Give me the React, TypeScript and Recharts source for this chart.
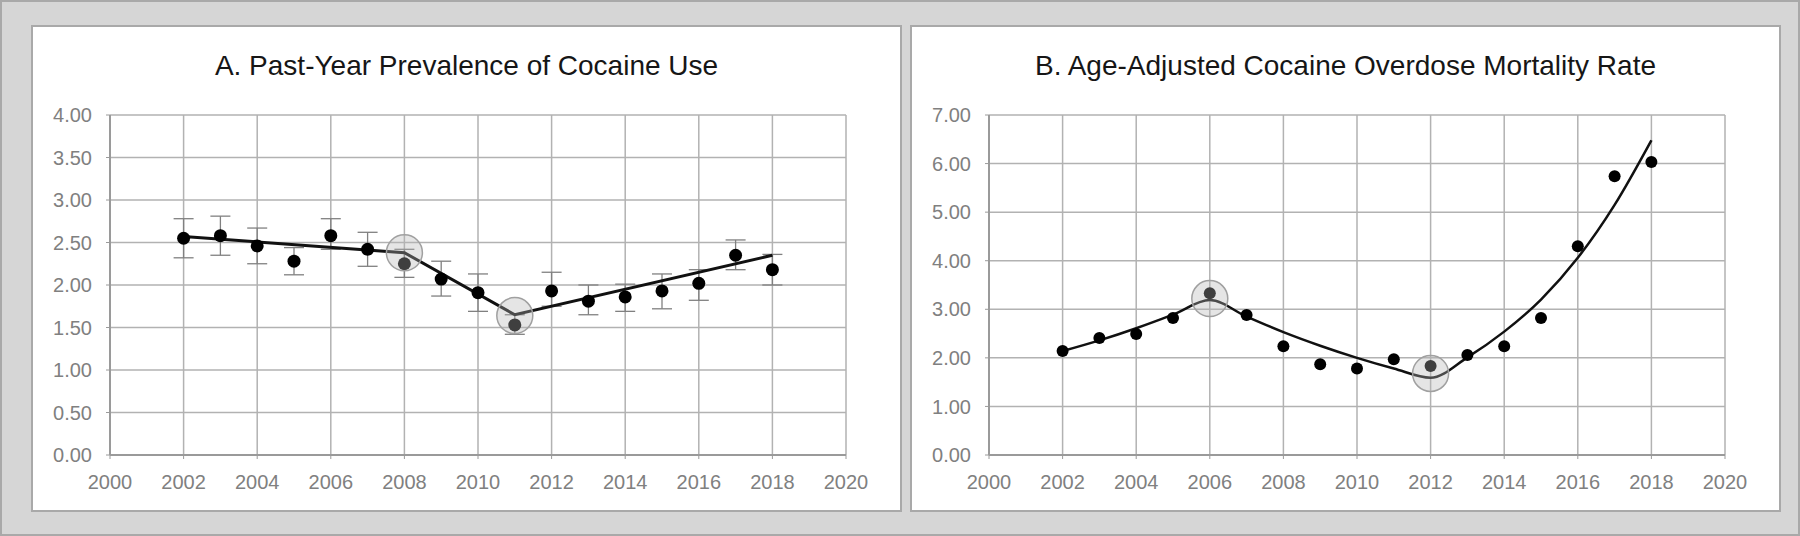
import * as React from "react";
import {
  ComposedChart,
  Line,
  Scatter,
  ErrorBar,
  XAxis,
  YAxis,
  CartesianGrid,
  ReferenceDot,
} from "recharts";

// years shared by both panels
const years = [2002, 2003, 2004, 2005, 2006, 2007, 2008, 2009, 2010, 2011, 2012, 2013, 2014, 2015, 2016, 2017, 2018];
const xTicks = [2000, 2002, 2004, 2006, 2008, 2010, 2012, 2014, 2016, 2018, 2020];

// A. past-year prevalence (%) with 95% CI
const prevalence = [2.55, 2.58, 2.46, 2.28, 2.58, 2.42, 2.25, 2.07, 1.91, 1.53, 1.93, 1.81, 1.86, 1.93, 2.02, 2.35, 2.18];
const prevLow = [2.32, 2.35, 2.25, 2.12, 2.42, 2.22, 2.09, 1.87, 1.69, 1.42, 1.75, 1.65, 1.69, 1.72, 1.82, 2.18, 2.0];
const prevHigh = [2.78, 2.81, 2.67, 2.44, 2.78, 2.62, 2.42, 2.28, 2.13, 1.65, 2.15, 2.0, 2.01, 2.13, 2.18, 2.53, 2.36];
// joinpoint trend A (values at the segment ends only)
const trendAYears = [2002, 2008, 2011, 2018];
const trendAValues = [2.57, 2.38, 1.65, 2.35];
const jointsA = [
  { year: 2008, value: 2.38 },
  { year: 2011, value: 1.64 },
];
const yTicksA = [0, 0.5, 1, 1.5, 2, 2.5, 3, 3.5, 4];

// B. age-adjusted cocaine overdose mortality rate
const mortality = [2.14, 2.41, 2.49, 2.82, 3.33, 2.88, 2.24, 1.87, 1.78, 1.97, 1.83, 2.06, 2.24, 2.82, 4.3, 5.74, 6.03];
const trendB = [2.14, 2.36, 2.61, 2.89, 3.19, 2.85, 2.53, 2.25, 2.0, 1.78, 1.59, 2.01, 2.54, 3.2, 4.06, 5.15, 6.48];
const jointsB = [
  { year: 2006, value: 3.22 },
  { year: 2012, value: 1.68 },
];
const yTicksB = [0, 1, 2, 3, 4, 5, 6, 7];

const dataA = years.map((year, i) => {
  const t = trendAYears.indexOf(year);
  return {
    year,
    value: prevalence[i],
    err: [prevalence[i] - prevLow[i], prevHigh[i] - prevalence[i]],
    trend: t >= 0 ? trendAValues[t] : null,
  };
});

const dataB = years.map((year, i) => ({ year, value: mortality[i], trend: trendB[i] }));

const FONT = "'Liberation Sans', Arial, sans-serif";
const tickStyle = { fontSize: 20, fill: "#808080", fontFamily: FONT };
const gridColor = "#b2b2b2";

const PANEL_W = 867;
const PANEL_H = 483;

const Panel: React.FC<{ left: number; title: string; children: React.ReactNode }> = ({ left, title, children }) => (
  <div
    style={{
      position: "absolute",
      left,
      top: 25,
      width: PANEL_W,
      height: PANEL_H,
      background: "#fff",
      boxShadow: "0 0 0 2px #a9a9a9",
    }}
  >
    <div
      style={{
        position: "absolute",
        top: 23,
        left: 0,
        width: "100%",
        textAlign: "center",
        fontFamily: FONT,
        fontSize: 28,
        color: "#161616",
      }}
    >
      {title}
    </div>
    <div style={{ position: "absolute", left: 0, top: 0 }}>{children}</div>
  </div>
);

const dotShape = (r: number) => (props: any) => <circle cx={props.cx} cy={props.cy} r={r} fill="#000" />;

const App: React.FC = () => {
  return (
    <div
      style={{
        position: "absolute",
        left: 0,
        top: 0,
        width: 1800,
        height: 536,
        background: "#d6d6d6",
        boxSizing: "border-box",
        border: "2px solid #a9a9a9",
      }}
    >
      <Panel left={31} title="A. Past-Year Prevalence of Cocaine Use">
        <ComposedChart width={PANEL_W} height={PANEL_H} data={dataA} margin={{ top: 88, right: 54, left: 0, bottom: 0 }}>
          <CartesianGrid stroke={gridColor} strokeWidth={1.5} />
          <XAxis
            dataKey="year"
            type="number"
            domain={[2000, 2020]}
            ticks={xTicks}
            height={55}
            tick={tickStyle}
            tickSize={4}
            tickMargin={16}
            axisLine={{ stroke: "#9a9a9a", strokeWidth: 2 }}
            tickLine={{ stroke: "#9a9a9a" }}
          />
          <YAxis
            type="number"
            domain={[0, 4]}
            ticks={yTicksA}
            width={77}
            tick={tickStyle}
            tickSize={4}
            tickMargin={14}
            tickFormatter={(v: number) => v.toFixed(2)}
            axisLine={{ stroke: "#9a9a9a", strokeWidth: 2 }}
            tickLine={{ stroke: "#9a9a9a" }}
          />
          <Scatter dataKey="value" isAnimationActive={false} shape={dotShape(6.5)}>
            <ErrorBar dataKey="err" direction="y" width={10} stroke="#808080" strokeWidth={1.3} />
          </Scatter>
          <Line
            type="linear"
            dataKey="trend"
            stroke="#111"
            strokeWidth={3}
            dot={false}
            connectNulls
            isAnimationActive={false}
          />
          {jointsA.map((j) => (
            <ReferenceDot
              key={j.year}
              x={j.year}
              y={j.value}
              r={18}
              fill="#b5b5b5"
              fillOpacity={0.35}
              stroke="#a0a0a0"
              strokeWidth={1.5}
            />
          ))}
        </ComposedChart>
      </Panel>
      <Panel left={910} title="B. Age-Adjusted Cocaine Overdose Mortality Rate">
        <ComposedChart width={PANEL_W} height={PANEL_H} data={dataB} margin={{ top: 88, right: 54, left: 0, bottom: 0 }}>
          <CartesianGrid stroke={gridColor} strokeWidth={1.5} />
          <XAxis
            dataKey="year"
            type="number"
            domain={[2000, 2020]}
            ticks={xTicks}
            height={55}
            tick={tickStyle}
            tickSize={4}
            tickMargin={16}
            axisLine={{ stroke: "#9a9a9a", strokeWidth: 2 }}
            tickLine={{ stroke: "#9a9a9a" }}
          />
          <YAxis
            type="number"
            domain={[0, 7]}
            ticks={yTicksB}
            width={77}
            tick={tickStyle}
            tickSize={4}
            tickMargin={14}
            tickFormatter={(v: number) => v.toFixed(2)}
            axisLine={{ stroke: "#9a9a9a", strokeWidth: 2 }}
            tickLine={{ stroke: "#9a9a9a" }}
          />
          <Line
            type="monotone"
            dataKey="trend"
            stroke="#111"
            strokeWidth={2.5}
            dot={false}
            isAnimationActive={false}
          />
          <Scatter dataKey="value" isAnimationActive={false} shape={dotShape(6)} />
          {jointsB.map((j) => (
            <ReferenceDot
              key={j.year}
              x={j.year}
              y={j.value}
              r={18}
              fill="#b5b5b5"
              fillOpacity={0.35}
              stroke="#a0a0a0"
              strokeWidth={1.5}
            />
          ))}
        </ComposedChart>
      </Panel>
    </div>
  );
};

export default App;
